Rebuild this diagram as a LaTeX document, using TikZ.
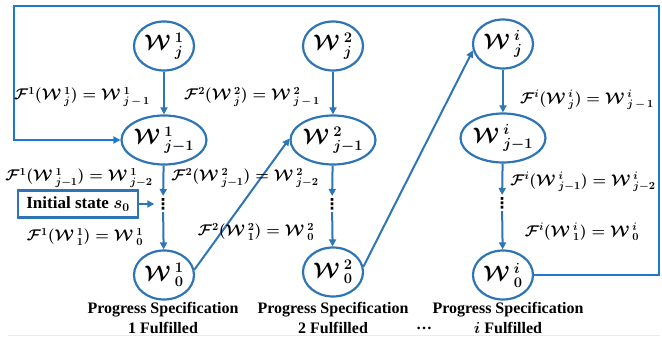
\RequirePackage{fix-cm}
\documentclass[tikz,border=0pt]{standalone}
\usepackage{amsmath}
\usepackage{fontspec}
\setmainfont{Liberation Serif}
\newfontfamily\dejavu{DejaVu Sans}
\usetikzlibrary{shapes.geometric,arrows.meta}
\definecolor{cblue}{RGB}{46,117,182}
\definecolor{fblue}{RGB}{30,120,205}
\newcommand{\Wc}{\mathcal{W}}
\newcommand{\Fc}{\mathcal{F}}
\begin{document}
\begin{tikzpicture}[x=1pt,y=-1pt,
  st/.style={draw=cblue,line width=2.2pt,ellipse,minimum width=60pt,minimum height=49pt,inner sep=0pt,font=\fontsize{21}{21}\selectfont\boldmath},
  arr/.style={draw=cblue,line width=2pt,-{Triangle[length=7pt,width=7pt]}},
  farr/.style={draw=fblue,line width=2.2pt,-{Triangle[length=7pt,width=7pt]}},
  lbl/.style={font=\fontsize{15.5}{15.5}\selectfont\boldmath,inner sep=0pt},
  vd/.style={font=\fontsize{15}{15}\selectfont\dejavu\bfseries,inner xsep=1pt,inner ysep=2pt},
  initbox/.style={draw=cblue,line width=2.2pt,minimum width=120pt,minimum height=27pt,inner sep=0pt,font=\fontsize{17}{17}\selectfont\bfseries\boldmath},
  captxt/.style={font=\fontsize{16}{20}\selectfont\bfseries\boldmath,align=center,inner sep=0pt}]
\useasboundingbox (0,0) rectangle (662,339);
% states
\node[st] (w1a) at (164,46) {$\Wc\,{}^{1}_{j}$};
\node[st] (w1b) at (164,140) {$\Wc\,{}^{1}_{j-1}$};
\node[vd] (d1) at (163,204) {⋮};
\node[st] (w1c) at (164,275) {$\Wc\,{}^{1}_{0}$};
\node[st] (w2a) at (333,46) {$\Wc\,{}^{2}_{j}$};
\node[st] (w2b) at (333,140) {$\Wc\,{}^{2}_{j-1}$};
\node[vd] (d2) at (332,204) {⋮};
\node[st] (w2c) at (333,272) {$\Wc\,{}^{2}_{0}$};
\node[st] (wia) at (503,44) {$\Wc\,{}^{i}_{j}$};
\node[st] (wib) at (503,138) {$\Wc\,{}^{i}_{j-1}$};
\node[vd] (di) at (502,203) {⋮};
\node[st] (wic) at (503,275) {$\Wc\,{}^{i}_{0}$};
% initial state
\node[initbox] (ini) at (78,204) {Initial state $s_0$};
% vertical arrows
\draw[arr] (w1a) -- (w1b);
\draw[arr] (w1b) -- (d1);
\draw[arr] (d1) -- (w1c);
\draw[arr] (w2a) -- (w2b);
\draw[arr] (w2b) -- (d2);
\draw[arr] (d2) -- (w2c);
\draw[arr] (wia) -- (wib);
\draw[arr] (wib) -- (di);
\draw[arr] (di) -- (wic);
\draw[arr] (ini) -- (d1);
% diagonals
\draw[arr] (w1c.10) -- (w2b.178);
\draw[arr] (w2c.10) -- (wia.192);
% frame
\coordinate (fr1) at (659,6);
\coordinate (fr2) at (14,140);
\draw[farr] (wic.east) -| (fr1) -| (fr2) -- (w1b.west);
% labels
\node[lbl] (l1a) at (82,97) {$\Fc^1(\Wc\,{}^{1}_{j}) = \Wc\,{}^{1}_{j\,-\,1}$};
\node[lbl] (l2a) at (252,97) {$\Fc^2(\Wc\,{}^{2}_{j}) = \Wc\,{}^{2}_{j\,-\,1}$};
\node[lbl] (l1b) at (79,178) {$\Fc^1(\Wc\,{}^{1}_{j-1}) = \Wc\,{}^{1}_{j-2}$};
\node[lbl] (l2b) at (245,178) {$\Fc^2(\Wc\,{}^{2}_{j-1}) = \Wc\,{}^{2}_{j-2}$};
\node[lbl] (l1c) at (85,237) {$\Fc^1(\Wc\,{}^{1}_{1}) = \Wc\,{}^{1}_{0}$};
\node[lbl] (l2c) at (256,232) {$\Fc^2(\Wc\,{}^{2}_{1}) = \Wc\,{}^{2}_{0}$};
\node[lbl] (lia) at (587,100) {$\Fc^i(\Wc\,{}^{i}_{j}) = \Wc\,{}^{i}_{j\,-\,1}$};
\node[lbl] (lib) at (583,182) {$\Fc^i(\Wc\,{}^{i}_{j-1}) = \Wc\,{}^{i}_{j-2}$};
\node[lbl] (lic) at (582,232) {$\Fc^i(\Wc\,{}^{i}_{1}) = \Wc\,{}^{i}_{0}$};
% captions
\node[captxt] (c1) at (163,318) {Progress Specification\\1 Fulfilled};
\node[captxt] (c2) at (333,318) {Progress Specification\\2 Fulfilled};
\node[captxt] (ci) at (508,318) {Progress Specification\\$i$ Fulfilled};
\node[captxt] (dots) at (424,328) {\dots};
\draw[black!8,line width=1pt] (8,336) -- (660,336);
\end{tikzpicture}
\end{document}
